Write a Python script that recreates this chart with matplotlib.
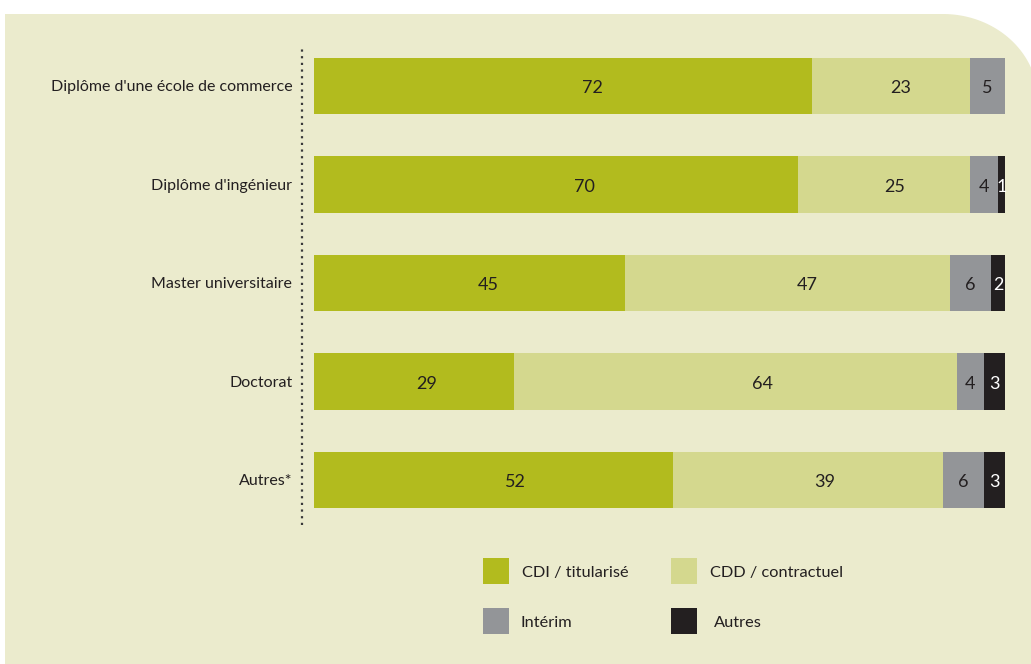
import numpy as np
import matplotlib.pyplot as plt
from matplotlib.patches import Polygon, Rectangle

plt.rcParams['font.family'] = ['Lato', 'DejaVu Sans']

categories = ["Diplôme d'une école de commerce", "Diplôme d'ingénieur",
              "Master universitaire", "Doctorat", "Autres*"]
cdi = [72, 70, 45, 29, 52]
cdd = [23, 25, 47, 64, 39]
interim = [5, 4, 6, 4, 6]
autres = [0, 1, 2, 3, 3]
series = [cdi, cdd, interim, autres]
series_names = ["CDI / titularisé", "CDD / contractuel", "Intérim", "Autres"]
colors = ["#b2bb1e", "#d4d88e", "#939598", "#231f20"]
text_dark = "#231f20"

W, H = 1031, 664
fig = plt.figure(figsize=(W / 100, H / 100), dpi=100, facecolor="white")

# background panel (pixel coordinates), rounded top-right corner
bg = fig.add_axes([0, 0, 1, 1], zorder=0)
bg.set_xlim(0, W)
bg.set_ylim(H, 0)
bg.axis("off")
cx, cy, rx, ry = 943, 100, 95, 86
t = np.linspace(np.pi / 2, 0, 60)
arc = np.column_stack([cx + rx * np.cos(t), cy - ry * np.sin(t)])
arc = arc[arc[:, 0] <= W + 5]
pts = np.vstack([[[5, H + 5], [5, 14]], arc, [[W + 5, arc[-1, 1]], [W + 5, H + 5]]])
bg.add_patch(Polygon(pts, closed=True, facecolor="#ebebcd", edgecolor="none"))

# main bar axes
ax_left, ax_right, ax_top, ax_bot = 302, 1005, 46, 525
ax = fig.add_axes([ax_left / W, 1 - ax_bot / H, (ax_right - ax_left) / W, (ax_bot - ax_top) / H], zorder=1)
ax.patch.set_alpha(0)
ax.set_xlim(-1.74, 100)
ax.set_ylim(4.457, -0.406)

y = np.arange(len(categories))
left = np.zeros(len(categories))
for vals, col in zip(series, colors):
    vals = np.array(vals, dtype=float)
    ax.barh(y, vals, left=left, height=0.569, color=col, edgecolor="none")
    tc = "white" if col == "#231f20" else text_dark
    for yi, l, v in zip(y, left, vals):
        if v > 0:
            frac = 0.56 if v >= 10 else 0.5
            ax.text(l + v * frac, yi + 0.01, f"{int(v)}", ha="center", va="center_baseline",
                    fontsize=13, color=tc)
    left += vals

ax.set_yticks(y)
ax.set_yticklabels(categories, fontsize=11.5, color=text_dark)
ax.tick_params(axis="y", length=0, pad=7)
ax.set_xticks([])
for s in ["top", "right", "bottom", "left"]:
    ax.spines[s].set_visible(False)
ax.plot([-1.74, -1.74], [4.457, -0.406], color="#3a3a3a", lw=1.6,
        linestyle=(0, (1, 2)), clip_on=False)

# legend (pixel coordinates)
leg_pos = [(483, 558), (671, 558), (483, 608), (671, 608)]
text_dx = [39, 39, 38, 43]
for (lx, ly), name, col, dx in zip(leg_pos, series_names, colors, text_dx):
    bg.add_patch(Rectangle((lx, ly), 26, 26, facecolor=col, edgecolor="none", zorder=2))
    bg.text(lx + dx, ly + 15, name, ha="left", va="center", fontsize=11.8,
            color=text_dark, zorder=2)

fig.savefig("out.png", dpi=100, facecolor=fig.get_facecolor())
